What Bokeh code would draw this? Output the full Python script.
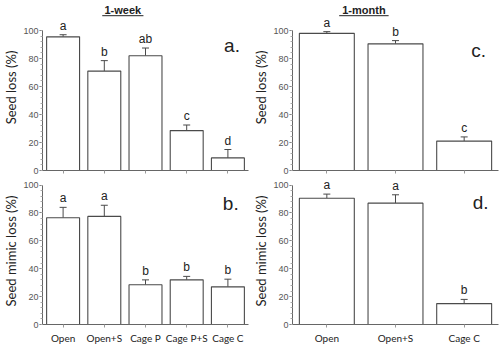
from bokeh.plotting import figure
from bokeh.layouts import column, row
from bokeh.models import Range1d, FixedTicker, Whisker, TeeHead, ColumnDataSource
from bokeh.core.properties import value
from bokeh.embed import file_html
from bokeh.resources import INLINE
import numpy as np

# ---- data ----
cats_week = ["Open", "Open+S", "Cage P", "Cage P+S", "Cage C"]
cats_month = ["Open", "Open+S", "Cage C"]

seed_week = [95.5, 71, 82, 28.5, 9]
seed_week_err = [1.5, 7.5, 5.5, 4, 6]
seed_week_sig = ["a", "b", "ab", "c", "d"]

mimic_week = [76.5, 77.5, 28.5, 32, 27]
mimic_week_err = [7.5, 8, 3.5, 2.5, 5.5]
mimic_week_sig = ["a", "a", "b", "b", "b"]

seed_month = [98, 90.5, 21]
seed_month_err = [1.2, 2.3, 3]
seed_month_sig = ["a", "b", "c"]

mimic_month = [90.5, 87, 15]
mimic_month_err = [3, 6, 3]
mimic_month_sig = ["a", "a", "b"]

titles = ["1-week", "1-month"]
panel_tags = ["a.", "b.", "c.", "d."]
ylabels = ["Seed loss (%)", "Seed mimic loss (%)"]
yticks = [0, 20, 40, 60, 80, 100]

AX = "#666666"
BAR = "#4a4a4a"
TXT = "#222222"
LF = "Lato"
NF = "Liberation Sans"


def panel(cats, vals, errs, sig, tag, tag_xy, ylabel, top, show_labels, title=None, title_x=None, ul=None):
    n = len(cats)
    if top:
        yend, h, bt, bb = 118.6, 175, 4, 5
    else:
        yend, h, bt, bb = 105.4, 171, 2, 21
    p = figure(output_backend="svg", toolbar_location=None,
               width=250, height=h,
               min_border_left=40, min_border_right=2,
               min_border_top=bt, min_border_bottom=bb,
               x_range=Range1d(0, n), y_range=Range1d(0, yend))
    p.outline_line_color = None
    p.grid.visible = False
    p.background_fill_color = "white"
    p.border_fill_color = "white"

    xs = np.arange(n) + 0.5
    top_err = [v + e for v, e in zip(vals, errs)]
    src = ColumnDataSource(dict(x=xs, v=vals, t=top_err, s=sig))
    p.vbar(x="x", top="v", bottom=0, width=0.8, source=src,
           fill_color="white", line_color=BAR, line_width=1.1)
    p.add_layout(Whisker(source=src, base="x", lower="v", upper="t",
                         line_color=BAR, line_width=1,
                         upper_head=TeeHead(size=7, line_color=BAR, line_width=1),
                         lower_head=None))
    p.text(x="x", y="t", text="s", source=src, y_offset=-2,
           text_align="center", text_baseline="bottom",
           text_font=value(NF), text_font_size="12px", text_color=TXT)
    p.text(x=[tag_xy[0]], y=[tag_xy[1]], text=[tag],
           text_align="center", text_baseline="middle",
           text_font=value(NF), text_font_size="19px", text_color=TXT)
    if title is not None:
        p.text(x=[title_x], y=[114.5], text=[title],
               text_align="center", text_baseline="middle",
               text_font=value(NF), text_font_style="bold",
               text_font_size="11px", text_color=TXT)
        p.segment(x0=[ul[0]], x1=[ul[1]], y0=[110.6], y1=[110.6],
                  line_color=TXT, line_width=1)

    # y axis
    ya = p.yaxis[0]
    ya.bounds = (0, 100)
    ya.ticker = FixedTicker(ticks=yticks,
                            minor_ticks=list(np.arange(0, 101, 4)))
    ya.axis_line_color = AX
    ya.major_tick_line_color = AX
    ya.minor_tick_line_color = "#aaaaaa"
    ya.major_tick_out = 3
    ya.major_tick_in = 0
    ya.minor_tick_out = 2
    ya.minor_tick_in = 0
    ya.major_label_text_font = NF
    ya.major_label_text_font_size = "9px"
    ya.major_label_text_color = "#555555"
    ya.major_label_standoff = 1
    ya.axis_label = ylabel
    ya.axis_label_text_font = LF
    ya.axis_label_text_font_style = "normal"
    ya.axis_label_text_font_size = "13px"
    ya.axis_label_text_color = TXT
    ya.axis_label_standoff = 1

    # x axis
    xa = p.xaxis[0]
    xa.ticker = FixedTicker(ticks=list(xs))
    xa.axis_line_color = AX
    xa.major_tick_line_color = "#999999"
    xa.major_tick_out = 3
    xa.major_tick_in = 0
    xa.minor_tick_line_color = None
    if show_labels:
        xa.major_label_overrides = {float(x): c for x, c in zip(xs, cats)}
        xa.major_label_text_font = LF
        xa.major_label_text_font_size = "10px"
        xa.major_label_text_color = TXT
        xa.major_label_standoff = 4
    else:
        xa.major_label_overrides = {float(x): "" for x in xs}
        xa.major_label_standoff = 0
    return p


pa = panel(cats_week, seed_week, seed_week_err, seed_week_sig, panel_tags[0], (4.6, 89),
           ylabels[0], True, False, title=titles[0], title_x=1.95, ul=(1.45, 2.45))
pb = panel(cats_week, mimic_week, mimic_week_err, mimic_week_sig, panel_tags[1], (4.57, 86.5),
           ylabels[1], False, True)
pc = panel(cats_month, seed_month, seed_month_err, seed_month_sig, panel_tags[2], (2.71, 85.7),
           ylabels[0], True, False, title=titles[1], title_x=1.04, ul=(0.68, 1.40))
pd = panel(cats_month, mimic_month, mimic_month_err, mimic_month_sig, panel_tags[3], (2.74, 87.8),
           ylabels[1], False, True)

layout = column(row(pa, pc), row(pb, pd))
open("out.html", "w").write(file_html(layout, INLINE))
